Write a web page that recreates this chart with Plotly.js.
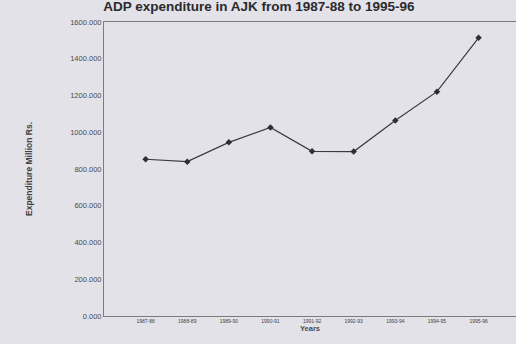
<!DOCTYPE html>
<html>
<head>
<meta charset="utf-8">
<script src="https://cdn.plot.ly/plotly-3.0.1.min.js"></script>
<style>html,body{margin:0;padding:0;background:#e3e2e8;}#chart{width:516px;height:344px;}</style>
</head>
<body>
<div id="chart"></div>
<script>
var years = ["1987-88","1988-89","1989-90","1990-91","1991-92","1992-93","1993-94","1994-95","1995-96"];
var expenditure = [853, 840, 945, 1026, 896, 895, 1064, 1221, 1514];
var yTicks = [0, 200, 400, 600, 800, 1000, 1200, 1400, 1600];
var yTickLabels = ["0.000","200.000","400.000","600.000","800.000","1000.000","1200.000","1400.000","1600.000"];

var trace = {
  x: years.map(function(_, i){ return i; }),
  y: expenditure,
  type: 'scatter',
  mode: 'lines+markers',
  line: {color: '#3a3a3f', width: 1.2},
  marker: {symbol: 'diamond', size: 5, color: '#2e2e33'},
  hoverinfo: 'skip'
};

var font = 'Liberation Sans, Arial, sans-serif';
var layout = {
  width: 516, height: 344,
  paper_bgcolor: '#e3e2e8',
  plot_bgcolor: '#e3e2e8',
  margin: {l: 104, r: 0, t: 22, b: 28},
  showlegend: false,
  title: {
    text: '<b>ADP expenditure in AJK from 1987-88 to 1995-96</b>',
    font: {family: font, size: 13.5, color: '#2a2a2e'},
    x: 0.2, xanchor: 'left', y: 0.995, yanchor: 'top'
  },
  xaxis: {
    range: [-1, 8.9],
    tickmode: 'array',
    tickvals: years.map(function(_, i){ return i; }),
    ticktext: years,
    tickfont: {family: font, size: 5, color: '#3e3e44'},
    showgrid: false, zeroline: false,
    showline: true, linecolor: '#7a7a80', linewidth: 1, mirror: true,
    ticks: '', ticklen: 0,
    title: {text: '<b>Years</b>', font: {family: font, size: 7.5, color: '#4a4a50'}, standoff: 2}
  },
  yaxis: {
    range: [0, 1600],
    tickmode: 'array',
    tickvals: yTicks,
    ticktext: yTickLabels,
    tickfont: {family: font, size: 7.5, color: '#4a4a50'},
    showgrid: false, zeroline: false,
    showline: true, linecolor: '#7a7a80', linewidth: 1,
    ticks: '', ticklen: 0,
    title: {text: '<b>Expenditure Million Rs.</b>', font: {family: font, size: 8.5, color: '#3e3e44'}, standoff: 36}
  }
};

Plotly.newPlot('chart', [trace], layout, {displayModeBar: false, staticPlot: true});
</script>
</body>
</html>
